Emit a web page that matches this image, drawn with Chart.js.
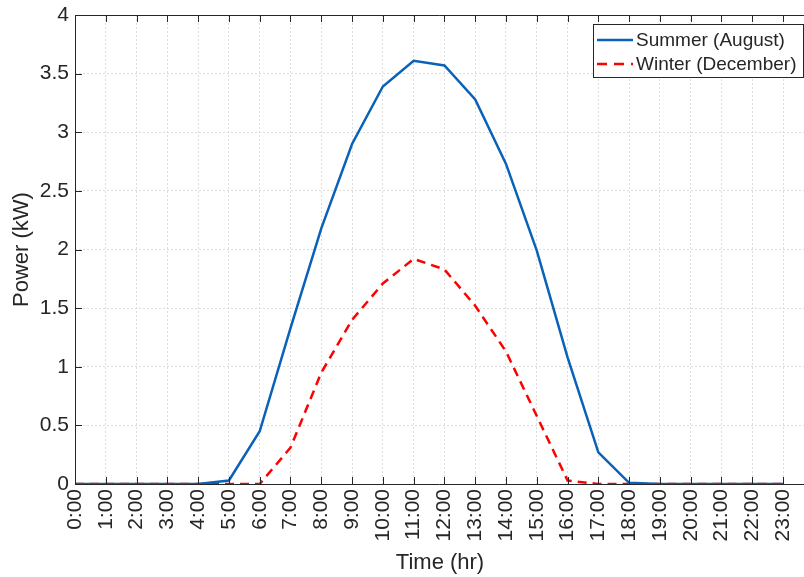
<!DOCTYPE html>
<html>
<head>
<meta charset="utf-8">
<script src="https://cdn.jsdelivr.net/npm/chart.js@4"></script>
<style>
  html, body { margin: 0; padding: 0; background: #fff; }
  #wrap { width: 804px; height: 577px; }
</style>
</head>
<body>
<div id="wrap"><canvas id="myChart" width="804" height="577"></canvas></div>
<script>
// hourly PV output, kW
const hours = [0, 1, 2, 3, 4, 5, 6, 7, 8, 9, 10, 11, 12, 13, 14, 15, 16, 17, 18, 19, 20, 21, 22, 23];
const hourLabels = ['0:00', '1:00', '2:00', '3:00', '4:00', '5:00', '6:00', '7:00', '8:00', '9:00', '10:00', '11:00',
    '12:00', '13:00', '14:00', '15:00', '16:00', '17:00', '18:00', '19:00', '20:00', '21:00', '22:00', '23:00'];
const summerKW = [0, 0, 0, 0, 0, 0.03, 0.45, 1.33, 2.18, 2.9, 3.39, 3.61, 3.57, 3.28, 2.73, 1.99, 1.08, 0.27, 0.01, 0, 0, 0, 0, 0];
const winterKW = [0, 0, 0, 0, 0, 0, 0, 0.31, 0.95, 1.4, 1.71, 1.92, 1.83, 1.52, 1.13, 0.58, 0.03, 0, 0, 0, 0, 0, 0, 0];
const yTicks = [0, 0.5, 1, 1.5, 2, 2.5, 3, 3.5, 4];
const seriesNames = ['Summer (August)', 'Winter (December)'];

const FONT = '"Liberation Sans", Arial, Helvetica, sans-serif';
const AXIS = '#262626';
const BLUE = '#0a62b8';
const RED = '#ff0000';

function toPoints(values) {
    return hours.map((h, i) => ({ x: h, y: values[i] }));
}

// matlab style box: frame, inward ticks, axis titles, legend
const boxPlugin = {
    id: 'box',
    afterDraw(chart) {
        const ctx = chart.ctx;
        const a = chart.chartArea;
        const xs = chart.scales.x;
        const ys = chart.scales.y;
        const tl = 7;

        ctx.save();
        ctx.strokeStyle = AXIS;
        ctx.lineWidth = 1;
        ctx.setLineDash([]);
        ctx.beginPath();
        ctx.moveTo(a.left + 0.5, a.bottom + 0.5);
        ctx.lineTo(a.left + 0.5, a.top + 0.5);
        ctx.lineTo(a.right, a.top + 0.5);
        ctx.moveTo(a.left, a.bottom + 0.5);
        ctx.lineTo(a.right, a.bottom + 0.5);
        hours.forEach(h => {
            const px = Math.round(xs.getPixelForValue(h)) + 0.5;
            ctx.moveTo(px, a.bottom);
            ctx.lineTo(px, a.bottom - tl);
            ctx.moveTo(px, a.top);
            ctx.lineTo(px, a.top + tl);
        });
        yTicks.forEach(v => {
            const py = Math.round(ys.getPixelForValue(v)) + 0.5;
            ctx.moveTo(a.left, py);
            ctx.lineTo(a.left + tl, py);
        });
        ctx.stroke();

        // axis titles
        ctx.fillStyle = AXIS;
        ctx.font = '22px ' + FONT;
        ctx.textAlign = 'center';
        ctx.textBaseline = 'middle';
        ctx.fillText('Time (hr)', 440, 563);
        ctx.save();
        ctx.translate(22, (a.top + a.bottom) / 2);
        ctx.rotate(-Math.PI / 2);
        ctx.fillText('Power (kW)', 0, 0);
        ctx.restore();

        // legend
        const lx = 593, ly = 24, lw = 210, lh = 53;
        ctx.fillStyle = '#fff';
        ctx.fillRect(lx, ly, lw, lh);
        ctx.strokeStyle = AXIS;
        ctx.strokeRect(lx + 0.5, ly + 0.5, lw, lh);
        const rows = [
            { name: seriesNames[0], color: BLUE, dash: [], y: ly + 16 },
            { name: seriesNames[1], color: RED, dash: [10, 7], y: ly + 40 }
        ];
        rows.forEach(r => {
            ctx.strokeStyle = r.color;
            ctx.lineWidth = 2.5;
            ctx.setLineDash(r.dash);
            ctx.beginPath();
            ctx.moveTo(lx + 4, r.y);
            ctx.lineTo(lx + 40, r.y);
            ctx.stroke();
            ctx.setLineDash([]);
            ctx.fillStyle = AXIS;
            ctx.font = '19px ' + FONT;
            ctx.textAlign = 'left';
            ctx.textBaseline = 'middle';
            ctx.fillText(r.name, lx + 43, r.y + 1);
        });
        ctx.restore();
    }
};

const ctx = document.getElementById('myChart').getContext('2d');
const chart = new Chart(ctx, {
    type: 'line',
    data: {
        datasets: [
            {
                label: seriesNames[0],
                data: toPoints(summerKW),
                borderColor: BLUE,
                borderWidth: 2.5,
                pointRadius: 0,
                tension: 0,
                fill: false
            },
            {
                label: seriesNames[1],
                data: toPoints(winterKW),
                borderColor: RED,
                borderWidth: 2.5,
                borderDash: [9, 6],
                pointRadius: 0,
                tension: 0,
                fill: false
            }
        ]
    },
    options: {
        responsive: false,
        animation: false,
        layout: { padding: { top: 15, right: 0, left: 0, bottom: 0 } },
        plugins: {
            legend: { display: false },
            tooltip: { enabled: false }
        },
        scales: {
            x: {
                type: 'linear',
                min: 0,
                max: 23.68,
                afterBuildTicks: scale => {
                    scale.ticks = hours.map(h => ({ value: h }));
                },
                afterFit: scale => {
                    scale.height = 93;
                    scale.paddingLeft = 0;
                    scale.paddingRight = 0;
                },
                ticks: {
                    autoSkip: false,
                    minRotation: 90,
                    maxRotation: 90,
                    padding: 5,
                    color: AXIS,
                    font: { family: FONT, size: 21 },
                    callback: value => hourLabels[value]
                },
                grid: { color: '#dcdcdc', lineWidth: 1, drawTicks: false },
                border: { display: false, dash: [2, 2] }
            },
            y: {
                min: 0,
                max: 4,
                afterBuildTicks: scale => {
                    scale.ticks = yTicks.map(v => ({ value: v }));
                },
                afterFit: scale => {
                    scale.width = 75;
                    scale.paddingTop = 0;
                    scale.paddingBottom = 0;
                },
                ticks: {
                    padding: 6,
                    color: AXIS,
                    font: { family: FONT, size: 21 },
                    callback: value => String(value)
                },
                grid: { color: '#dcdcdc', lineWidth: 1, drawTicks: false },
                border: { display: false, dash: [2, 2] }
            }
        }
    },
    plugins: [boxPlugin]
});
</script>
</body>
</html>
